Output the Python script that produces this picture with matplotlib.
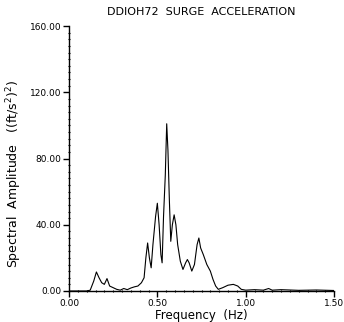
import numpy as np
import matplotlib
matplotlib.use('Agg')
import matplotlib.pyplot as plt
from matplotlib.ticker import MultipleLocator, FormatStrFormatter

# spectrum
freq = [0.00, 0.10, 0.12, 0.14, 0.155, 0.17, 0.185, 0.20, 0.215, 0.23,
        0.25, 0.27, 0.29, 0.31, 0.33, 0.35, 0.37, 0.39, 0.41, 0.425,
        0.435, 0.445, 0.455, 0.465, 0.475, 0.49, 0.50, 0.51, 0.52, 0.527,
        0.535, 0.545, 0.553, 0.56, 0.568, 0.576, 0.585, 0.595, 0.605, 0.615,
        0.63, 0.645, 0.66, 0.67, 0.68, 0.695, 0.71, 0.725, 0.735, 0.745,
        0.76, 0.78, 0.80, 0.815, 0.83, 0.845, 0.87, 0.90, 0.93, 0.955,
        0.975, 1.00, 1.05, 1.10, 1.13, 1.15, 1.20, 1.30, 1.40, 1.50]
amp = [0.0, 0.0, 0.5, 6.0, 11.5, 8.0, 5.0, 4.0, 7.5, 3.0,
       2.0, 1.0, 0.5, 1.5, 0.8, 1.8, 2.5, 3.0, 5.0, 8.0,
       20.0, 29.0, 20.0, 14.0, 28.0, 45.0, 53.0, 40.0, 22.0, 17.0,
       45.0, 70.0, 101.0, 85.0, 55.0, 30.0, 40.0, 46.0, 40.0, 28.0,
       18.0, 13.0, 17.0, 19.0, 17.0, 12.0, 16.0, 28.0, 32.0, 26.0,
       22.0, 16.0, 12.0, 7.0, 3.0, 1.0, 2.0, 3.5, 4.0, 3.0,
       1.0, 0.5, 0.8, 0.5, 1.5, 0.5, 0.8, 0.4, 0.6, 0.3]

fig = plt.figure(figsize=(3.44, 3.22), dpi=100)
ax = fig.add_axes([0.2006, 0.0963, 0.7704, 0.8227])

ax.plot(freq, amp, color='black', lw=0.8)

ax.set_xlim(0, 1.5)
ax.set_ylim(0, 160)
ax.spines['top'].set_visible(False)
ax.spines['right'].set_visible(False)
ax.spines['left'].set_linewidth(1.0)
ax.spines['bottom'].set_linewidth(1.0)

ax.xaxis.set_major_locator(MultipleLocator(0.5))
ax.xaxis.set_minor_locator(MultipleLocator(0.05))
ax.yaxis.set_major_locator(MultipleLocator(40))
ax.yaxis.set_minor_locator(MultipleLocator(4))
ax.xaxis.set_major_formatter(FormatStrFormatter('%.2f'))
ax.yaxis.set_major_formatter(FormatStrFormatter('%.2f'))
ax.tick_params(which='major', direction='out', length=4, width=1.0,
               labelsize=6.5, pad=1.5)
ax.tick_params(which='minor', direction='inout', length=2, width=0.8)

ax.set_xlabel('Frequency  (Hz)', fontsize=8.5, labelpad=1)
ax.set_ylabel('Spectral  Amplitude   ((ft/s$^2$)$^2$)', fontsize=9, labelpad=5)
ax.yaxis.set_label_coords(-0.17, 0.44)
ax.set_title('DDIOH72  SURGE  ACCELERATION', fontsize=8, pad=8)

fig.savefig('out.png', dpi=100)
